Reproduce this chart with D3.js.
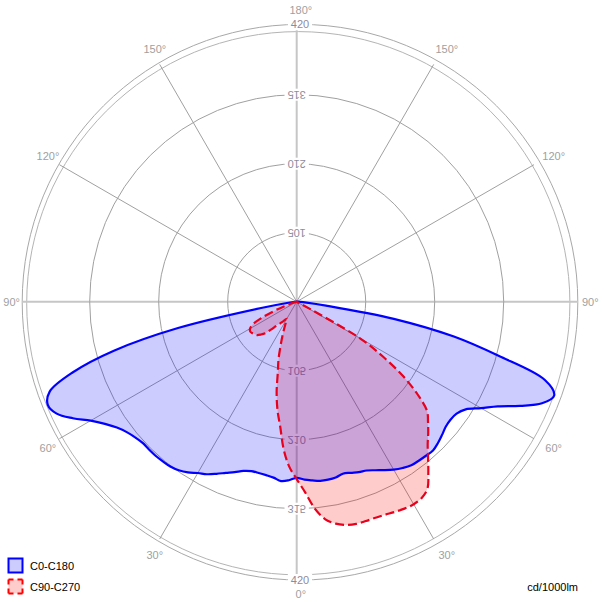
<!DOCTYPE html>
<html><head><meta charset="utf-8">
<script src="https://cdn.jsdelivr.net/npm/d3@7"></script>
<style>body{margin:0;background:#fff}svg{display:block}</style>
</head><body>
<svg id="c" width="604" height="602"></svg>
<script>
// ---- data ----
const gammas = [0,2.5,5,7.5,10,12.5,15,17.5,20,22.5,25,27.5,30,32.5,35,37.5,40,42.5,45,47.5,50,52.5,55,57.5,60,62.5,65,67.5,70,72.5,75,77.5,80,82.5,85,87.5,90];
// C0 (right half of C0-C180)
const c0   = [268,271,273,275,275,274,271,273,276,278,283,289,295,300,304,305,306,307,304,300,296,295,297,305,324,345,375,404,417,396,318,245,150,45,15,5,0];
// C180 (left half of C0-C180)
const c180 = [268,272,274,270,268,267,267,270,276,282,289,296,301,308,313,316,317,318,318,318,321,326,334,346,362,384,403,410,400,357,288,185,55,15,5,2,0];
// C90 (right half of C90-C270)
const c90  = [270,290,316,334,343,348,350,350,350,351,353,355,356,354,347,329,311,295,283,271,259,232,198,156,110,5,0,0,0,0,0,0,0,0,0,0,0];
// C270 (left half of C90-C270)
const c270 = [270,252,226,192,168,141,111,92,72,57,45,36,30,33,37,42,47,57,68,74,79,81,83,84,82,76,60,38,20,10,4,1,0,0,0,0,0];
const ringValues = [105,210,315];
const maxValue = 420;
const angleTicks = [0,30,60,90,120,150,180];
const seriesNames = ["C0-C180","C90-C270"];
const unitLabel = "cd/1000lm";

// ---- layout ----
const cx = 296.7, cy = 301.7, R = 276;
const FONT = "'Liberation Sans', Arial, sans-serif";
const svg = d3.select("#c");
const rScale = d3.scaleLinear().domain([0, maxValue]).range([0, R]);
const rad = d => d * Math.PI / 180;

// outer double ring
svg.append("circle").attr("cx",300).attr("cy",302.2).attr("r",277.8)
  .attr("fill","none").attr("stroke","#a8a8a8").attr("stroke-width",1);
svg.append("circle").attr("cx",298.3).attr("cy",303.2).attr("r",271.6)
  .attr("fill","none").attr("stroke","#b4b4b4").attr("stroke-width",1);

// main axes (behind labels)
svg.append("line").attr("x1",cx).attr("x2",cx).attr("y1",24).attr("y2",580)
  .attr("stroke","#c6c6c6").attr("stroke-width",2);
svg.append("line").attr("x1",22).attr("x2",578).attr("y1",cy).attr("y2",cy)
  .attr("stroke","#c6c6c6").attr("stroke-width",2);

const g = svg.append("g").attr("transform",`translate(${cx},${cy})`);

// spokes
const spokeR = 274;
[30,60,120,150].forEach(a => {
  [-1,1].forEach(s => {
    g.append("line").attr("x1",0).attr("y1",0)
      .attr("x2", s*spokeR*Math.sin(rad(a))).attr("y2", spokeR*Math.cos(rad(a)))
      .attr("stroke","#a0a0a0").attr("stroke-width",1);
  });
});

// value circles
g.selectAll("circle.ring").data(ringValues).enter().append("circle")
  .attr("class","ring").attr("r", d => rScale(d))
  .attr("fill","none").attr("stroke","#a0a0a0").attr("stroke-width",1);

// label helper with white background
function bgLabel(parent, x, y, txt, transform, color){
  const gg = parent.append("g").attr("transform",`translate(${x},${y})`);
  const rect = gg.append("rect").attr("fill","#fff");
  const t = gg.append("text").text(txt)
    .attr("font-family",FONT).attr("font-size",11).attr("fill",color)
    .attr("text-anchor","middle").attr("dominant-baseline","central");
  if (transform) t.attr("transform",transform);
  const w = t.node().getComputedTextLength();
  rect.attr("x",-w/2-3).attr("y",-6).attr("width",w+6).attr("height",12);
  return gg;
}
ringValues.forEach(v => {
  bgLabel(g, 0, -rScale(v), String(v), "rotate(180)", "#8c8c9e");
  bgLabel(g, 0,  rScale(v), String(v), "scale(1,-1)", "#8c8c9e");
});
bgLabel(svg, 300, 24.3, String(maxValue), null, "#8c8c9e");
bgLabel(svg, 300, 580, String(maxValue), null, "#8c8c9e");

// angle labels
const lc = [300.8, 302], lr = 292;
angleTicks.forEach(a => {
  const sides = (a === 0 || a === 180) ? [1] : [-1,1];
  sides.forEach(s => {
    let x = lc[0] + s*lr*Math.sin(rad(a));
    let y = lc[1] + lr*Math.cos(rad(a));
    let anchor = "middle";
    if (a === 90) { x = s < 0 ? 20 : 582; y = cy; anchor = s < 0 ? "end" : "start"; }
    svg.append("text").text(a + "°").attr("x",x).attr("y",y)
      .attr("font-family",FONT).attr("font-size",11).attr("fill","#a0a0a0")
      .attr("text-anchor",anchor).attr("dominant-baseline","central");
  });
});

// series
function seriesPoints(left, right){
  const pts = [];
  for (let i = gammas.length-1; i >= 0; i--) pts.push([Math.PI + rad(gammas[i]), rScale(left[i])]);
  for (let i = 1; i < gammas.length; i++) pts.push([Math.PI - rad(gammas[i]), rScale(right[i])]);
  return pts;
}
const line = d3.lineRadial().angle(d => d[0]).radius(d => d[1]).curve(d3.curveCatmullRom.alpha(0.5));
const blueD = line(seriesPoints(c180, c0)) + "Z";
const redD  = line(seriesPoints(c270, c90)) + "Z";

g.append("path").attr("d", redD).attr("fill","rgba(255,0,0,0.2)").attr("stroke","none");
g.append("path").attr("d", blueD).attr("fill","rgba(0,0,255,0.2)").attr("stroke","none");
g.append("path").attr("d", blueD).attr("fill","none").attr("stroke","#0000ff")
  .attr("stroke-width",2.2).attr("stroke-linejoin","round");
g.append("path").attr("d", redD).attr("fill","none").attr("stroke","#e8001c")
  .attr("stroke-width",2.2).attr("stroke-dasharray","9,4").attr("stroke-linejoin","round");

// legend
const leg = svg.append("g");
leg.append("rect").attr("x",8.5).attr("y",558.5).attr("width",14).attr("height",14)
  .attr("fill","#ccccff").attr("stroke","#0000ff").attr("stroke-width",2);
leg.append("rect").attr("x",8.5).attr("y",579.5).attr("width",14).attr("height",14)
  .attr("fill","#ffcccc").attr("stroke","#ff0000").attr("stroke-width",2)
  .attr("stroke-dasharray","5,4,5,0");
leg.selectAll("text.lg").data(seriesNames).enter().append("text").attr("class","lg")
  .text(d => d).attr("x",30).attr("y",(d,i) => 566 + i*21)
  .attr("font-family",FONT).attr("font-size",11).attr("fill","#000")
  .attr("dominant-baseline","central");
svg.append("text").text(unitLabel).attr("x",578).attr("y",587)
  .attr("font-family",FONT).attr("font-size",11).attr("fill","#000")
  .attr("text-anchor","end").attr("dominant-baseline","central");
</script>
</body></html>
